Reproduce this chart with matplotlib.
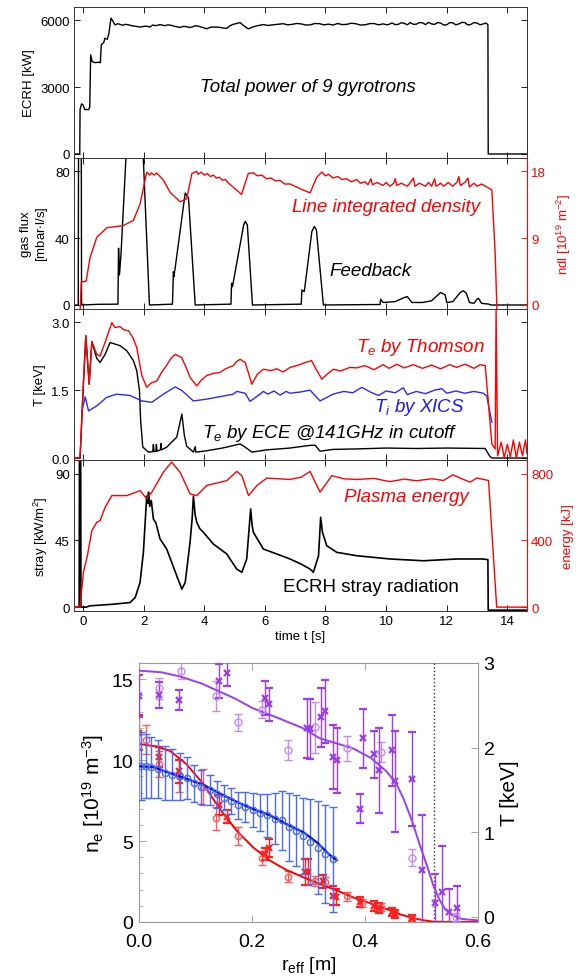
import matplotlib.pyplot as plt
from matplotlib.ticker import MultipleLocator

plt.rcParams['font.family'] = ['Liberation Sans', 'DejaVu Sans']
plt.rcParams['mathtext.fontset'] = 'custom'
plt.rcParams['mathtext.rm'] = 'Liberation Sans'
plt.rcParams['mathtext.it'] = 'Liberation Sans:italic'

# ---- time traces (t [s], value) ----
ecrh = [(-0.3, 0), (-0.11, 0), (-0.1, 2000), (-0.05, 2250), (0.0, 2200), (0.05, 2000), (0.18, 1990),
        (0.22, 2100), (0.25, 4450), (0.3, 4150), (0.4, 4100), (0.5, 4120), (0.57, 4100), (0.6, 4900),
        (0.68, 5000), (0.72, 5200), (0.8, 5150), (0.85, 5400), (0.92, 6100), (0.97, 6000), (1.05, 5800),
        (1.15, 5850), (1.3, 5780), (1.4, 5820), (1.5, 5800), (1.6, 5760), (1.7, 5740), (1.9, 5700),
        (2.0, 5730), (2.1, 5740), (2.2, 5700), (2.3, 5790), (2.4, 5760), (2.54, 5810), (2.7, 5760),
        (2.8, 5800), (2.9, 5780), (3.0, 5740), (3.2, 5680), (3.3, 5730), (3.4, 5720), (3.5, 5680),
        (3.6, 5700), (3.7, 5760), (3.8, 5740), (3.95, 5680), (4.08, 5620), (4.2, 5690), (4.3, 5700),
        (4.5, 5690), (4.6, 5660), (4.74, 5640), (4.85, 5760), (4.95, 5820), (5.18, 5900), (5.3, 5760),
        (5.45, 5620), (5.6, 5700), (5.75, 5760), (5.95, 5810), (6.1, 5770), (6.2, 5790), (6.4, 5820),
        (6.6, 5850), (6.75, 5800), (6.9, 5820), (7.05, 5860), (7.2, 5840), (7.35, 5790), (7.5, 5800),
        (7.65, 5860), (7.8, 5850), (7.95, 5800), (8.1, 5830), (8.25, 5790), (8.4, 5860), (8.55, 5810),
        (8.7, 5820), (8.85, 5870), (9.0, 5850), (9.15, 5790), (9.3, 5800), (9.45, 5850), (9.6, 5860),
        (9.75, 5800), (9.9, 5840), (10.05, 5800), (10.2, 5880), (10.3, 5810), (10.4, 5820),
        (10.5, 5890), (10.6, 5870), (10.7, 5800), (10.8, 5900), (10.9, 5820), (11.0, 5830),
        (11.1, 5900), (11.2, 5890), (11.3, 5810), (11.4, 5910), (11.5, 5840), (11.6, 5820),
        (11.7, 5900), (11.8, 5880), (11.9, 5790), (12.0, 5800), (12.1, 5900), (12.2, 5890),
        (12.3, 5800), (12.4, 5840), (12.5, 5910), (12.6, 5900), (12.7, 5790), (12.8, 5820),
        (12.9, 5900), (13.0, 5880), (13.1, 5800), (13.2, 5840), (13.3, 5880), (13.36, 5800),
        (13.37, 0), (14.65, 0)]

gasflux = [(-0.3, 0), (-0.16, 0), (-0.15, 100), (-0.06, 100), (-0.05, 0), (0.5, 0.4), (1.15, 0.5),
           (1.17, 34), (1.2, 18), (1.25, 30), (1.73, 200), (2.19, 0), (2.95, 0.5), (2.98, 20), (3.0, 17),
           (3.37, 67), (3.48, 64), (3.7, 0), (4.88, 0.5), (4.9, 13), (4.93, 11), (5.3, 48), (5.35, 50),
           (5.42, 48), (5.59, 0), (7.2, 0.5), (7.22, 9), (7.3, 8), (7.55, 44), (7.63, 47), (7.7, 45),
           (7.93, 0), (9.8, 0.3), (9.82, 3.5), (9.9, 1.5), (10.3, 2), (10.6, 4.5), (10.7, 5),
           (10.85, 1.5), (11.2, 1.5), (11.5, 2.5), (11.8, 7.5), (11.95, 6), (12.0, 1.5), (12.2, 2),
           (12.45, 7.5), (12.55, 8.5), (12.65, 7), (12.75, 1.5), (12.9, 1), (13.0, 3.5), (13.05, 4),
           (13.15, 1), (13.4, 0.5), (13.45, 0), (14.65, 0)]

ndl = [(-0.3, -1), (-0.1, -1), (-0.06, 3.1), (0.1, 3.2), (0.23, 6.4), (0.45, 9.1), (0.78, 10.4),
       (1.33, 10.7), (1.66, 11.4), (1.88, 13.6), (2.1, 17.9), (2.2, 17.5), (2.25, 17.8), (2.35, 17.5),
       (2.43, 17.8), (2.65, 16.8), (2.87, 15.2), (3.2, 13.9), (3.42, 14.3), (3.59, 17.7), (3.75, 18.0),
       (3.8, 17.6), (3.9, 17.9), (4.0, 17.5), (4.1, 17.7), (4.2, 17.3), (4.3, 17.5), (4.4, 17.1),
       (4.5, 17.2), (4.6, 16.8), (4.7, 16.9), (4.8, 16.4), (4.95, 15.9), (5.23, 14.9), (5.45, 17.7),
       (5.62, 17.8), (5.75, 17.4), (5.9, 17.5), (6.05, 17.0), (6.2, 17.1), (6.35, 16.7), (6.5, 16.8),
       (6.65, 16.3), (6.83, 16.3), (7.2, 15.6), (7.49, 15.1), (7.71, 17.2), (7.88, 17.9), (8.0, 17.4),
       (8.1, 17.6), (8.25, 17.1), (8.4, 17.3), (8.55, 16.9), (8.7, 17.0), (8.85, 16.6), (9.03, 16.9),
       (9.15, 16.4), (9.3, 16.6), (9.4, 16.2), (9.5, 17.0), (9.55, 16.2), (9.7, 16.5), (9.9, 16.1),
       (10.0, 16.5), (10.13, 16.0), (10.25, 16.4), (10.3, 17.0), (10.35, 16.1), (10.5, 16.4),
       (10.7, 16.0), (10.8, 16.5), (10.9, 17.1), (10.95, 16.0), (11.1, 16.4), (11.3, 16.0),
       (11.4, 16.5), (11.5, 16.0), (11.6, 17.0), (11.65, 16.0), (11.8, 16.4), (11.9, 16.0),
       (12.05, 16.5), (12.2, 16.0), (12.35, 16.6), (12.4, 17.3), (12.45, 16.1), (12.6, 16.5),
       (12.7, 17.1), (12.75, 15.9), (12.9, 16.4), (13.0, 16.0), (13.15, 16.3), (13.32, 15.9),
       (13.49, 15.5), (13.6, 6.9), (13.66, -1), (14.65, -1)]

te_thomson = [(-0.3, 0), (-0.1, 0), (0.0, 1.5), (0.09, 2.70), (0.2, 1.63), (0.29, 2.57), (0.45, 2.29),
              (0.56, 2.25), (0.75, 2.6), (0.95, 2.99), (1.05, 2.88), (1.22, 2.9), (1.35, 2.83), (1.5, 2.81),
              (1.65, 2.65), (1.77, 2.44), (1.94, 1.82), (2.1, 1.56), (2.25, 1.66), (2.43, 1.7), (2.6, 1.9),
              (2.75, 2.04), (2.9, 2.2), (3.04, 2.29), (3.15, 2.25), (3.25, 2.22), (3.4, 2.0), (3.53, 1.78),
              (3.75, 1.59), (3.9, 1.72), (4.08, 1.82), (4.3, 1.87), (4.52, 1.89), (4.7, 1.97), (4.96, 2.04),
              (5.05, 2.12), (5.18, 2.18), (5.35, 2.11), (5.57, 1.63), (5.75, 1.85), (5.95, 1.96), (6.2, 1.93),
              (6.39, 1.97), (6.6, 1.9), (6.83, 2.0), (7.1, 2.05), (7.3, 2.1), (7.54, 2.15), (7.7, 1.95),
              (7.88, 1.74), (8.05, 1.85), (8.26, 1.96), (8.5, 1.92), (8.8, 2.0), (9.03, 1.99), (9.3, 2.04),
              (9.6, 1.95), (9.9, 2.06), (10.1, 1.98), (10.35, 2.07), (10.6, 1.99), (10.9, 2.06), (11.2, 1.98),
              (11.5, 2.05), (11.8, 1.97), (12.1, 2.06), (12.33, 2.0), (12.6, 2.07), (12.9, 1.98),
              (13.1, 2.06), (13.27, 2.04), (13.38, 1.19), (13.49, 0.31), (13.6, 0.2), (13.63, 3.3),
              (13.68, 0.05), (13.8, 0.35), (13.9, 0.0), (14.0, 0.3), (14.1, 0.02), (14.2, 0.4), (14.3, 0.0),
              (14.4, 0.35), (14.5, 0.05), (14.6, 0.4), (14.65, 0.1)]

ti_xics = [(-0.04, 1.04), (0.07, 1.35), (0.18, 1.04), (0.45, 1.15), (0.78, 1.34), (1.11, 1.41),
           (1.55, 1.38), (1.94, 1.26), (2.27, 1.23), (2.65, 1.41), (3.04, 1.57), (3.26, 1.49),
           (3.64, 1.26), (4.08, 1.30), (4.96, 1.41), (5.07, 1.47), (5.35, 1.43), (5.51, 1.25),
           (5.84, 1.41), (5.95, 1.47), (6.1, 1.41), (6.3, 1.48), (6.5, 1.39), (6.7, 1.47), (6.83, 1.43),
           (7.2, 1.46), (7.49, 1.50), (7.82, 1.26), (8.25, 1.41), (8.6, 1.47), (8.9, 1.44), (9.2, 1.56),
           (9.5, 1.45), (9.75, 1.38), (10.0, 1.48), (10.3, 1.44), (10.57, 1.55), (10.7, 1.40),
           (11.0, 1.47), (11.3, 1.42), (11.6, 1.50), (11.84, 1.53), (12.0, 1.43), (12.3, 1.48),
           (12.6, 1.43), (12.9, 1.47), (13.21, 1.43), (13.32, 1.37), (13.49, 0.79)]

te_ece = [(-0.3, 0), (-0.1, 0), (0.0, 1.5), (0.09, 2.70), (0.2, 1.63), (0.29, 2.57), (0.45, 2.2),
          (0.56, 2.11), (0.73, 2.29), (0.89, 2.55), (1.22, 2.48), (1.44, 2.37), (1.66, 2.15), (1.77, 1.93),
          (1.86, 1.49), (1.9, 0.82), (1.97, 0.24), (2.16, 0.13), (2.3, 0.14), (2.32, 0.3), (2.34, 0.14),
          (2.4, 0.15), (2.42, 0.3), (2.44, 0.15), (2.55, 0.18), (2.57, 0.32), (2.59, 0.18), (2.76, 0.24),
          (3.09, 0.46), (3.26, 0.97), (3.34, 0.51), (3.42, 0.26), (3.64, 0.13), (3.7, 0.25), (3.72, 0.13),
          (4.08, 0.16), (4.6, 0.22), (5.18, 0.31), (5.35, 0.24), (5.57, 0.13), (6.06, 0.18), (6.83, 0.22),
          (7.5, 0.28), (7.66, 0.28), (7.82, 0.15), (8.25, 0.19), (9.0, 0.2), (10.0, 0.22), (11.0, 0.21),
          (12.0, 0.22), (13.27, 0.21), (13.43, 0.03), (13.5, 0.0), (14.65, 0.0)]

stray = [(-0.3, 0), (-0.13, 0), (-0.12, 105), (-0.08, 105), (-0.07, 0), (0.1, 0), (0.23, 0.9),
         (0.56, 1.35), (1.0, 2.0), (1.55, 3.1), (1.72, 6.5), (1.88, 16.7), (1.99, 37), (2.1, 75),
         (2.14, 70), (2.16, 77.6), (2.2, 68), (2.25, 72), (2.32, 59.5), (2.4, 57), (2.54, 46),
         (2.76, 39.2), (3.09, 21.2), (3.26, 12.2), (3.37, 16.7), (3.53, 43.8), (3.6, 60), (3.64, 75),
         (3.7, 62), (3.75, 57.3), (3.85, 53), (3.97, 50.5), (4.3, 42.6), (4.74, 35.9), (5.07, 25.7),
         (5.24, 23.5), (5.4, 32.5), (5.53, 66.3), (5.58, 55), (5.62, 50.5), (5.95, 39.2), (6.39, 35.9),
         (6.83, 32.5), (7.2, 29), (7.49, 25.7), (7.6, 23.5), (7.77, 34.7), (7.84, 60.7), (7.9, 50.5),
         (8.04, 41.5), (8.37, 37), (9.03, 34.7), (10.13, 32.5), (11.23, 31.3), (12.33, 32.5),
         (13.21, 32.5), (13.36, 32), (13.37, -2), (14.65, -2)]

energy = [(-0.3, 0), (-0.1, 0), (0.01, 209), (0.14, 308), (0.29, 459), (0.45, 509), (0.56, 519),
          (0.73, 600), (0.95, 669), (1.44, 669), (1.88, 699), (2.1, 650), (2.27, 690), (2.65, 810),
          (2.92, 870), (3.2, 810), (3.53, 680), (3.75, 669), (4.08, 730), (4.74, 759), (5.07, 814),
          (5.24, 789), (5.46, 669), (5.74, 730), (6.06, 774), (6.83, 766), (7.2, 780), (7.49, 814),
          (7.82, 690), (8.21, 789), (8.6, 770), (9.03, 766), (9.6, 772), (10.13, 753), (10.6, 768),
          (11.0, 758), (11.5, 770), (11.9, 760), (12.2, 794), (12.5, 770), (12.77, 750), (13.0, 775),
          (13.21, 766), (13.38, 760), (13.65, 0), (14.65, 0)]

# ---- profiles vs r_eff [m] ----
te_fit_r = [0.0, 0.04, 0.073, 0.11, 0.14, 0.17, 0.2, 0.25, 0.29, 0.32, 0.35, 0.379, 0.41, 0.438, 0.455,
            0.468, 0.483, 0.497, 0.51, 0.521, 0.532, 0.542, 0.555, 0.568, 0.58, 0.6]
te_fit = [2.91, 2.89, 2.84, 2.76, 2.67, 2.58, 2.47, 2.34, 2.23, 2.11, 2.05, 1.99, 1.88, 1.72, 1.58,
          1.40, 1.14, 0.85, 0.6, 0.37, 0.2, 0.09, 0.02, -0.02, -0.03, -0.04]

te_o_r = [0.036, 0.075, 0.137, 0.176, 0.217, 0.263, 0.311, 0.368, 0.428, 0.484, 0.561]
te_o = [2.70, 2.91, 2.61, 2.30, 2.45, 1.97, 2.24, 1.99, 1.95, 0.70, 0.0]
te_o_err = [0.12, 0.1, 0.18, 0.1, 0.1, 0.12, 0.3, 0.15, 0.12, 0.1, 0.05]

te_x_r = [0.0, 0.036, 0.07, 0.142, 0.155, 0.223, 0.23, 0.297, 0.302, 0.323, 0.329, 0.344, 0.35, 0.391,
          0.397, 0.416, 0.425, 0.447, 0.453, 0.483, 0.50, 0.524, 0.537, 0.549, 0.563]
te_x = [2.61, 2.62, 2.56, 2.79, 2.88, 2.59, 2.51, 2.23, 2.22, 2.36, 2.43, 1.89, 1.85, 1.28, 2.11, 1.92,
        1.73, 1.97, 1.60, 1.63, 0.56, 0.16, 0.29, 0.06, 0.10]
te_x_err = [0.25, 0.15, 0.12, 0.2, 0.15, 0.2, 0.2, 0.35, 0.35, 0.35, 0.37, 0.38, 0.38, 0.17, 0.35,
            0.28, 0.5, 0.42, 0.6, 0.55, 0.65, 0.35, 0.55, 0.27, 0.27]

ti_fit_r = [0.0, 0.025, 0.055, 0.085, 0.114, 0.143, 0.173, 0.2, 0.232, 0.26, 0.291, 0.315, 0.338, 0.35]
ti_fit = [1.78, 1.77, 1.70, 1.63, 1.56, 1.46, 1.36, 1.28, 1.20, 1.10, 1.0, 0.88, 0.73, 0.67]

ti_r = [0.004, 0.012, 0.022, 0.034, 0.046, 0.058, 0.072, 0.085, 0.097, 0.11, 0.125, 0.138, 0.151,
        0.163, 0.176, 0.188, 0.201, 0.214, 0.227, 0.240, 0.253, 0.265, 0.278, 0.29, 0.303, 0.317,
        0.329, 0.343]
ti = [1.78, 1.78, 1.77, 1.75, 1.70, 1.68, 1.66, 1.64, 1.58, 1.54, 1.50, 1.45, 1.41, 1.37, 1.32, 1.30,
      1.26, 1.23, 1.20, 1.16, 1.14, 1.06, 1.02, 0.96, 0.89, 0.82, 0.74, 0.68]
ti_err = [0.40, 0.38, 0.36, 0.34, 0.32, 0.30, 0.28, 0.25, 0.22, 0.20, 0.18, 0.16, 0.15, 0.15, 0.16,
          0.18, 0.20, 0.22, 0.25, 0.30, 0.35, 0.40, 0.42, 0.45, 0.50, 0.55, 0.58, 0.62]

ne_fit_r = [0.0, 0.03, 0.055, 0.084, 0.114, 0.143, 0.173, 0.202, 0.232, 0.261, 0.291, 0.32, 0.35,
            0.379, 0.41, 0.438, 0.46, 0.485, 0.505, 0.521, 0.55, 0.6]
ne_fit = [11.0, 10.85, 10.57, 9.75, 8.52, 6.98, 5.64, 4.61, 3.79, 3.21, 2.76, 2.35, 1.95, 1.52, 1.15,
          0.80, 0.5, 0.23, 0.1, 0.02, 0.0, 0.0]

ne_o_r = [0.012, 0.036, 0.07, 0.114, 0.136, 0.176, 0.218, 0.263, 0.311, 0.329, 0.368, 0.394, 0.428, 0.484]
ne_o = [11.25, 9.75, 9.03, 8.35, 6.4, 5.29, 3.95, 2.8, 2.55, 2.45, 1.58, 1.2, 0.9, 0.23]
ne_o_err = [0.9, 0.8, 1.0, 1.1, 0.7, 0.55, 0.45, 0.35, 0.3, 0.3, 0.3, 0.25, 0.25, 0.2]

ne_x_r = [0.0, 0.036, 0.07, 0.142, 0.155, 0.223, 0.23, 0.294, 0.299, 0.326, 0.344, 0.348, 0.392,
          0.416, 0.425, 0.447, 0.453, 0.483]
ne_x = [11.7, 10.2, 9.3, 7.22, 6.5, 4.2, 4.55, 3.07, 3.07, 2.51, 1.62, 1.52, 1.25, 1.0, 0.85, 0.64,
        0.49, 0.23]
ne_x_err = [1.1, 0.6, 0.7, 0.6, 0.4, 0.4, 0.55, 0.8, 0.8, 0.4, 0.6, 0.5, 0.3, 0.3, 0.3, 0.25, 0.25, 0.2]

r_lcfs = 0.522


def unzip(pairs):
    return [p[0] for p in pairs], [p[1] for p in pairs]


RED = '#ff0000'
BLUE = '#2a2aff'
PURPLE = '#9a3ff0'
PURPLE_L = '#c48cf5'
W, H = 578, 978

fig = plt.figure(figsize=(W / 100, H / 100), dpi=100)


def pax(top, bottom, left=74, right=527):
    return fig.add_axes([left / W, 1 - bottom / H, (right - left) / W, (bottom - top) / H])


def label(x, y, s, **kw):
    # x, y in pixels from the top-left corner of the figure
    fig.text(x / W, 1 - y / H, s, ha='center', va='center', fontsize=13.5, **kw)


def style(ax):
    ax.tick_params(direction='in', labelsize=9.5, length=4, width=0.6, top=True, right=True, pad=3)
    for s in ax.spines.values():
        s.set_linewidth(0.7)
        s.set_color('#333333')


def red_twin(ax, lo, hi, ticks, text):
    a2 = ax.twinx()
    a2.set_ylim(lo, hi)
    a2.set_yticks(ticks)
    a2.tick_params(direction='in', labelsize=9.5, length=4, width=0.6, colors=RED, pad=3)
    for s in a2.spines.values():
        s.set_visible(False)
    a2.spines['right'].set_visible(True)
    a2.spines['right'].set_color(RED)
    a2.set_ylabel(text, fontsize=9.5, color=RED, labelpad=6)
    return a2


tops = [8, 159, 310, 461, 612]
axs = [pax(tops[i], tops[i + 1]) for i in range(4)]
for ax in axs:
    ax.set_xlim(-0.3, 14.65)
    ax.xaxis.set_major_locator(MultipleLocator(2))
    style(ax)
for ax in axs[:3]:
    ax.tick_params(labelbottom=False)

# panel 1
ax = axs[0]
t, v = unzip(ecrh)
ax.plot(t, v, color='black', lw=1.0)
ax.set_ylim(-180, 6600)
ax.set_yticks([0, 3000, 6000])
ax.set_ylabel('ECRH [kW]', fontsize=9.5, labelpad=4)
label(308, 88, 'Total power of 9 gyrotrons', style='italic')

# panel 2
ax = axs[1]
t, v = unzip(gasflux)
ax.plot(t, v, color='black', lw=1.0)
ax.set_ylim(-2.4, 88)
ax.set_yticks([0, 40, 80])
ax.set_ylabel('gas flux\n[mbar$\\cdot$l/s]', fontsize=9.5, labelpad=4, linespacing=1.1)
ax.tick_params(right=False)
ax2 = red_twin(ax, -2.4 * 18 / 80, 88 * 18 / 80, [0, 9, 18], 'ndl [10$^{19}$ m$^{-2}$]')
t, v = unzip(ndl)
ax2.plot(t, v, color=RED, lw=1.0)
label(386, 207, 'Line integrated density', style='italic', color=RED)
label(370, 272, 'Feedback', style='italic')

# panel 3
ax = axs[2]
t, v = unzip(te_ece)
ax.plot(t, v, color='black', lw=1.0)
t, v = unzip(ti_xics)
ax.plot(t, v, color=BLUE, lw=1.0)
t, v = unzip(te_thomson)
ax.plot(t, v, color=RED, lw=1.0)
ax.set_ylim(-0.044, 3.29)
ax.set_yticks([0, 1.5, 3.0])
ax.set_yticklabels(['0.0', '1.5', '3.0'])
ax.set_ylabel('T [keV]', fontsize=9.5, labelpad=4)
label(420, 347, '$T_e$ by Thomson', style='italic', color=RED)
label(419, 408, '$T_i$ by XICS', style='italic', color='#1a1aff')
label(330, 433, '$T_e$ by ECE @141GHz in cutoff', style='italic')

# panel 4
ax = axs[3]
t, v = unzip(stray)
ax.plot(t, v, color='black', lw=1.2)
ax.set_ylim(-2.6, 99.3)
ax.set_yticks([0, 45, 90])
ax.set_ylabel('stray [kW/m$^2$]', fontsize=9.5, labelpad=4)
ax.set_xlabel('time t [s]', fontsize=9.5, labelpad=2)
ax.tick_params(right=False)
ax2 = red_twin(ax, -2.6 * 800 / 90, 99.3 * 800 / 90, [0, 400, 800], 'energy [kJ]')
t, v = unzip(energy)
ax2.plot(t, v, color=RED, lw=1.0)
label(406, 498, 'Plasma energy', style='italic', color=RED)
label(371, 588, 'ECRH stray radiation')

# ---- profile plot ----
pa = pax(664, 923, left=139, right=478)
pa.set_xlim(0, 0.6)
pa.set_ylim(0, 16)
pa.set_xticks([0, 0.2, 0.4, 0.6])
pa.set_xticklabels(['0.0', '0.2', '0.4', '0.6'])
pa.set_yticks([0, 5, 10, 15])
pa.yaxis.set_minor_locator(MultipleLocator(1))
pa.tick_params(direction='in', labelsize=14, length=5, width=0.6, color='#999999', top=True, pad=4)
pa.tick_params(axis='x', pad=8)
pa.tick_params(which='minor', direction='in', length=3, width=0.5, color='#999999')
for s in pa.spines.values():
    s.set_color('#999999')
    s.set_linewidth(0.8)
pa.set_xlabel(r'r$_\mathrm{eff}$ [m]', fontsize=14, labelpad=3)
pa.set_ylabel(r'n$_\mathrm{e}$ [10$^{19}$ m$^{-3}$]', fontsize=15, labelpad=4)

pt = pa.twinx()
pt.set_ylim(-0.06, 3.0)
pt.set_yticks([0, 1, 2, 3])
pt.tick_params(direction='in', labelsize=14, length=5, width=0.6, color='#999999', pad=4)
for s in pt.spines.values():
    s.set_visible(False)
pt.set_ylabel('T [keV]', fontsize=15, labelpad=4)

pt.axvline(r_lcfs, color='#333333', ls=':', lw=1.0)

ekw = dict(lw=0, elinewidth=1.0, capsize=3, capthick=1.0)
pa.errorbar(ne_o_r, ne_o, yerr=ne_o_err, fmt='o', ms=4.5, mfc='none', mew=1.0, color='#ff5a5a', **ekw)
pa.errorbar(ne_x_r, ne_x, yerr=ne_x_err, fmt='x', ms=5, mew=1.6, color='#ff2020', **ekw)
pa.plot(ne_fit_r, ne_fit, color=RED, lw=1.4)

pt.errorbar(ti_r, ti, yerr=ti_err, fmt='o', ms=4.5, mfc='none', mew=1.0, color='#4a6aff', **ekw)
pt.plot(ti_fit_r, ti_fit, color='#0010d0', lw=1.6)

pt.errorbar(te_o_r, te_o, yerr=te_o_err, fmt='o', ms=5, mfc='none', mew=1.0, color=PURPLE_L, **ekw)
pt.errorbar(te_x_r, te_x, yerr=te_x_err, fmt='x', ms=4.5, mew=1.6, color=PURPLE, **ekw)
pt.plot(te_fit_r, te_fit, color=PURPLE, lw=1.4)

fig.savefig('out.png', dpi=100)
